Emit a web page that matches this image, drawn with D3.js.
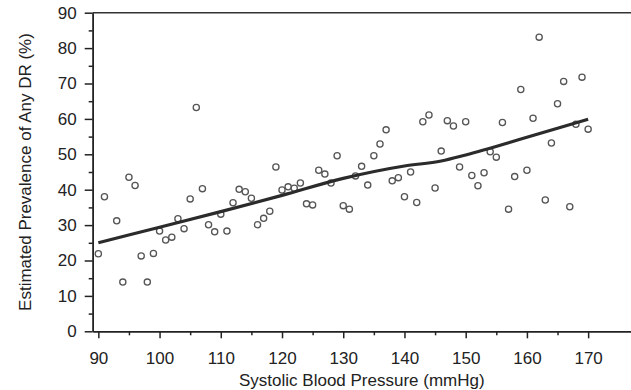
<!DOCTYPE html>
<html>
<head>
<meta charset="utf-8">
<script src="https://cdn.jsdelivr.net/npm/d3@7"></script>
<style>
  html, body { margin: 0; padding: 0; background: #fff; }
  text { font-family: "Liberation Sans", Arial, sans-serif; fill: #222; }
</style>
</head>
<body>
<script>
// Observed points: systolic blood pressure (mmHg) and estimated prevalence (%)
const sbp = [90, 91, 93, 94, 95, 96, 97, 98, 99, 100,
             101, 102, 103, 104, 105, 106, 107, 108, 109, 110,
             111, 112, 113, 114, 115, 116, 117, 118, 119, 120,
             121, 122, 123, 124, 125, 126, 127, 128, 129, 130,
             131, 132, 133, 134, 135, 136, 137, 138, 139, 140,
             141, 142, 143, 144, 145, 146, 147, 148, 149, 150,
             151, 152, 153, 154, 155, 156, 157, 158, 159, 160,
             161, 162, 163, 164, 165, 166, 167, 168, 169, 170];
const prevalence = [21.9, 38.0, 31.2, 13.9, 43.5, 41.2, 21.3, 13.9, 22.0, 28.3,
                    25.8, 26.6, 31.8, 29.0, 37.4, 63.2, 40.3, 30.1, 28.1, 33.1,
                    28.3, 36.3, 40.1, 39.4, 37.6, 30.1, 31.9, 33.9, 46.4, 39.9,
                    40.8, 40.4, 41.9, 36.0, 35.7, 45.5, 44.4, 41.9, 49.6, 35.5,
                    34.5, 43.9, 46.6, 41.3, 49.6, 52.9, 56.9, 42.5, 43.4, 38.0,
                    45.0, 36.4, 59.2, 61.1, 40.5, 50.9, 59.5, 58.0, 46.4, 59.2,
                    44.0, 41.1, 44.8, 50.7, 49.2, 59.0, 34.5, 43.7, 68.3, 45.5,
                    60.2, 83.1, 37.1, 53.2, 64.3, 70.6, 35.2, 58.5, 71.8, 57.1];

// Smoothed fit
const fitSbp = [90, 100, 110, 120, 130, 140, 146, 150, 160, 170];
const fitPrev = [25.0, 29.4, 33.8, 38.4, 43.2, 46.7, 48.1, 49.8, 54.8, 59.9];

// Tick values
const xMajor = d3.range(90, 171, 10);
const xMinor = d3.range(95, 170, 10);
const yMajor = d3.range(0, 91, 10);
const yMinor = d3.range(5, 90, 10);

const width = 631,
      height = 390;
const plotLeft = 92.7, plotRight = 631, plotTop = 12.7, plotBottom = 331.3;

const svg = d3.select("body")
  .append("svg")
    .attr("width", width)
    .attr("height", height);

const x = d3.scaleLinear()
  .domain([89.08, 177])
  .range([plotLeft, plotRight]);

const y = d3.scaleLinear()
  .domain([0, 90])
  .range([plotBottom, plotTop]);

// Axes
svg.append("g")
  .attr("transform", `translate(0,${plotBottom})`)
  .call(d3.axisBottom(x).tickValues(xMajor).tickSize(7).tickSizeOuter(0).tickPadding(13.5));
svg.append("g")
  .attr("transform", `translate(0,${plotBottom})`)
  .call(d3.axisBottom(x).tickValues(xMinor).tickSize(4).tickSizeOuter(0).tickFormat(""));

svg.append("g")
  .attr("transform", `translate(${plotLeft},0)`)
  .call(d3.axisLeft(y).tickValues(yMajor).tickSize(8).tickSizeOuter(0).tickPadding(8));
svg.append("g")
  .attr("transform", `translate(${plotLeft},0)`)
  .call(d3.axisLeft(y).tickValues(yMinor).tickSize(4).tickSizeOuter(0).tickFormat(""));

svg.selectAll(".domain, .tick line")
  .attr("stroke", "#222")
  .attr("stroke-width", 1.5);
svg.selectAll(".tick text")
  .style("font-size", "17px")
  .attr("fill", "#222");

// Top border
svg.append("line")
  .attr("x1", plotLeft).attr("x2", plotRight)
  .attr("y1", plotTop).attr("y2", plotTop)
  .attr("stroke", "#333")
  .attr("stroke-width", 1.5);

// Axis titles
svg.append("text")
  .attr("x", (plotLeft + plotRight) / 2)
  .attr("y", 386)
  .attr("text-anchor", "middle")
  .style("font-size", "17px")
  .text("Systolic Blood Pressure (mmHg)");

svg.append("text")
  .attr("transform", `translate(31,${(plotTop + plotBottom) / 2}) rotate(-90)`)
  .attr("text-anchor", "middle")
  .style("font-size", "17px")
  .text("Estimated Prevalence of Any DR (%)");

// Points
svg.append("g")
  .selectAll("circle")
  .data(sbp.map((d, i) => [d, prevalence[i]]))
  .join("circle")
    .attr("cx", d => x(d[0]))
    .attr("cy", d => y(d[1]))
    .attr("r", 3.1)
    .attr("fill", "#fff")
    .attr("stroke", "#555")
    .attr("stroke-width", 1.3);

// Fit line
const line = d3.line()
  .x(d => x(d[0]))
  .y(d => y(d[1]))
  .curve(d3.curveMonotoneX);

svg.append("path")
  .datum(fitSbp.map((d, i) => [d, fitPrev[i]]))
  .attr("d", line)
  .attr("fill", "none")
  .attr("stroke", "#2b2b2b")
  .attr("stroke-width", 3.2);
</script>
</body>
</html>
